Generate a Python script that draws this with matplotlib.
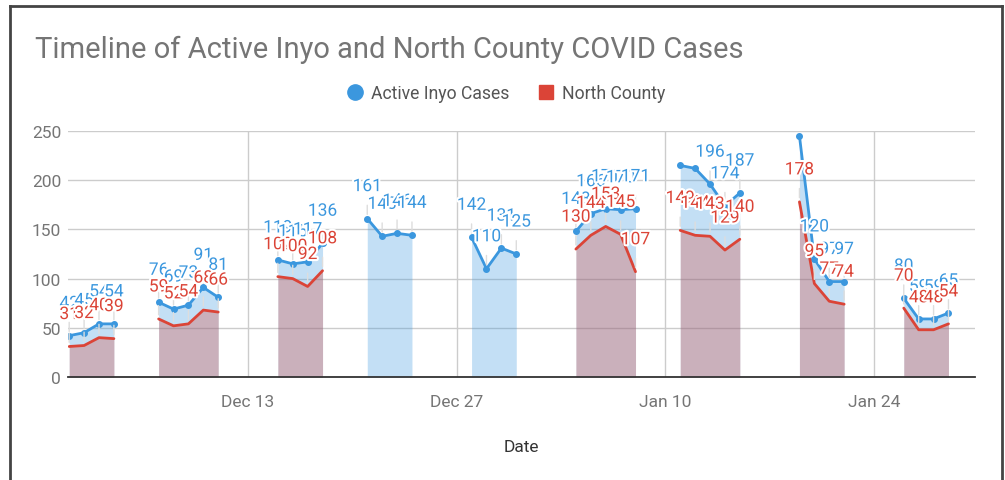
import matplotlib
matplotlib.use("Agg")
import matplotlib.pyplot as plt
import matplotlib.dates as mdates
import matplotlib.patheffects as pe
from matplotlib.lines import Line2D
import numpy as np
import datetime as dt

plt.rcParams['font.family'] = ['Roboto', 'DejaVu Sans']

# dates with data (weekdays), active Inyo cases and North County cases (None = no value)
dates = ['2020-12-01', '2020-12-02', '2020-12-03', '2020-12-04',
         '2020-12-07', '2020-12-08', '2020-12-09', '2020-12-10', '2020-12-11',
         '2020-12-15', '2020-12-16', '2020-12-17', '2020-12-18',
         '2020-12-21', '2020-12-22', '2020-12-23', '2020-12-24',
         '2020-12-28', '2020-12-29', '2020-12-30', '2020-12-31',
         '2021-01-04', '2021-01-05', '2021-01-06', '2021-01-07', '2021-01-08',
         '2021-01-11', '2021-01-12', '2021-01-13', '2021-01-14', '2021-01-15',
         '2021-01-19', '2021-01-20', '2021-01-21', '2021-01-22',
         '2021-01-26', '2021-01-27', '2021-01-28', '2021-01-29']
inyo = [42, 45, 54, 54,
        76, 69, 73, 91, 81,
        119, 115, 117, 136,
        161, 143, 146, 144,
        142, 110, 131, 125,
        148, 166, 171, 170, 171,
        215, 212, 196, 174, 187,
        245, 120, 97, 97,
        80, 59, 59, 65]
north = [31, 32, 40, 39,
         59, 52, 54, 68, 66,
         102, 100, 92, 108,
         None, None, None, None,
         None, None, None, None,
         130, 144, 153, 145, 107,
         149, 144, 143, 129, 140,
         178, 95, 77, 74,
         70, 48, 48, 54]
yticks = [0, 50, 100, 150, 200, 250]
xtick_dates = ['2020-12-13', '2020-12-27', '2021-01-10', '2021-01-24']

blue = '#3b97de'
red = '#db4437'

x = mdates.date2num([dt.date.fromisoformat(d) for d in dates])
inyo_a = np.array(inyo, dtype=float)
north_a = np.array([np.nan if v is None else v for v in north], dtype=float)

# split into runs of consecutive days
breaks = np.where(np.diff(x) > 1)[0] + 1
runs = np.split(np.arange(len(x)), breaks)

fig = plt.figure(figsize=(10.05, 4.81), dpi=100)
ax = fig.add_axes([68 / 1005, 1 - 378 / 481, (975 - 68) / 1005, (378 - 132) / 481])

for r in runs:
    xs = x[r]
    ax.fill_between(xs, 0, inyo_a[r], color=blue, alpha=0.3, lw=0, zorder=2)
    ax.plot(xs, inyo_a[r], color=blue, lw=2, marker='o', ms=4, zorder=4,
            solid_capstyle='round')
    nv = north_a[r]
    if not np.all(np.isnan(nv)):
        ax.fill_between(xs, 0, nv, color=red, alpha=0.3, lw=0, zorder=3)
        ax.plot(xs, nv, color=red, lw=2, zorder=4, solid_capstyle='round')

ymax = 250
halo = [pe.withStroke(linewidth=3, foreground='white')]


def label(xi, yi, col, z):
    # labels that would stick out above the plot area are dropped, as in the original
    if yi > ymax - 42:
        return
    ax.annotate(f'{int(yi)}', xy=(xi, yi), xytext=(0, 23), textcoords='offset points',
                ha='center', va='center', fontsize=12.5, color=col, zorder=z,
                path_effects=halo, annotation_clip=False,
                arrowprops=dict(arrowstyle='-', color='#dddddd', lw=1,
                                shrinkA=6, shrinkB=3))


for xi, yi in zip(x, inyo_a):
    label(xi, yi, blue, 6)
for xi, yi in zip(x, north_a):
    if not np.isnan(yi):
        label(xi, yi, red, 7)

ax.set_ylim(0, ymax)
ax.set_yticks(yticks)
d13 = mdates.date2num(dt.date(2020, 12, 13))
ax.set_xlim(d13 - 12.08, d13 + 48.78)
ax.set_xticks(mdates.date2num([dt.date.fromisoformat(d) for d in xtick_dates]))
ax.xaxis.set_major_formatter(mdates.DateFormatter('%b %d'))
ax.grid(True, color='#cccccc', lw=1, zorder=0)
ax.set_axisbelow(True)
for s in ['top', 'right', 'left']:
    ax.spines[s].set_visible(False)
ax.spines['bottom'].set_color('#333333')
ax.spines['bottom'].set_linewidth(1.3)
ax.spines['bottom'].set_zorder(8)
ax.tick_params(length=0, labelsize=12.5, labelcolor='#757575')
ax.tick_params(axis='x', pad=12)
ax.tick_params(axis='y', pad=5)
ax.set_xlabel('Date', fontsize=12.5, color='#333333', labelpad=22)

fig.text(35 / 1005, 1 - 58 / 481, 'Timeline of Active Inyo and North County COVID Cases',
         fontsize=21, color='#757575', va='baseline', ha='left')

handles = [Line2D([], [], ls='none', marker='o', ms=11, color=blue),
           Line2D([], [], ls='none', marker='s', ms=10, color=red)]
fig.legend(handles, ['Active Inyo Cases', 'North County'], loc='center',
           bbox_to_anchor=(0.503, 1 - 94 / 481), ncol=2, frameon=False,
           fontsize=12.7, labelcolor='#555555', handletextpad=0.4,
           columnspacing=1.6, handlelength=1.0)

# screenshot border
fig.add_artist(Line2D([9.5 / 1005, 9.5 / 1005], [0, 1 - 7 / 481], color='#444444', lw=2))
fig.add_artist(Line2D([9.5 / 1005, 1001.5 / 1005], [1 - 7 / 481, 1 - 7 / 481], color='#444444', lw=2))
fig.add_artist(Line2D([1001.5 / 1005, 1001.5 / 1005], [0, 1 - 7 / 481], color='#444444', lw=2))

fig.savefig('out.png', dpi=100)
